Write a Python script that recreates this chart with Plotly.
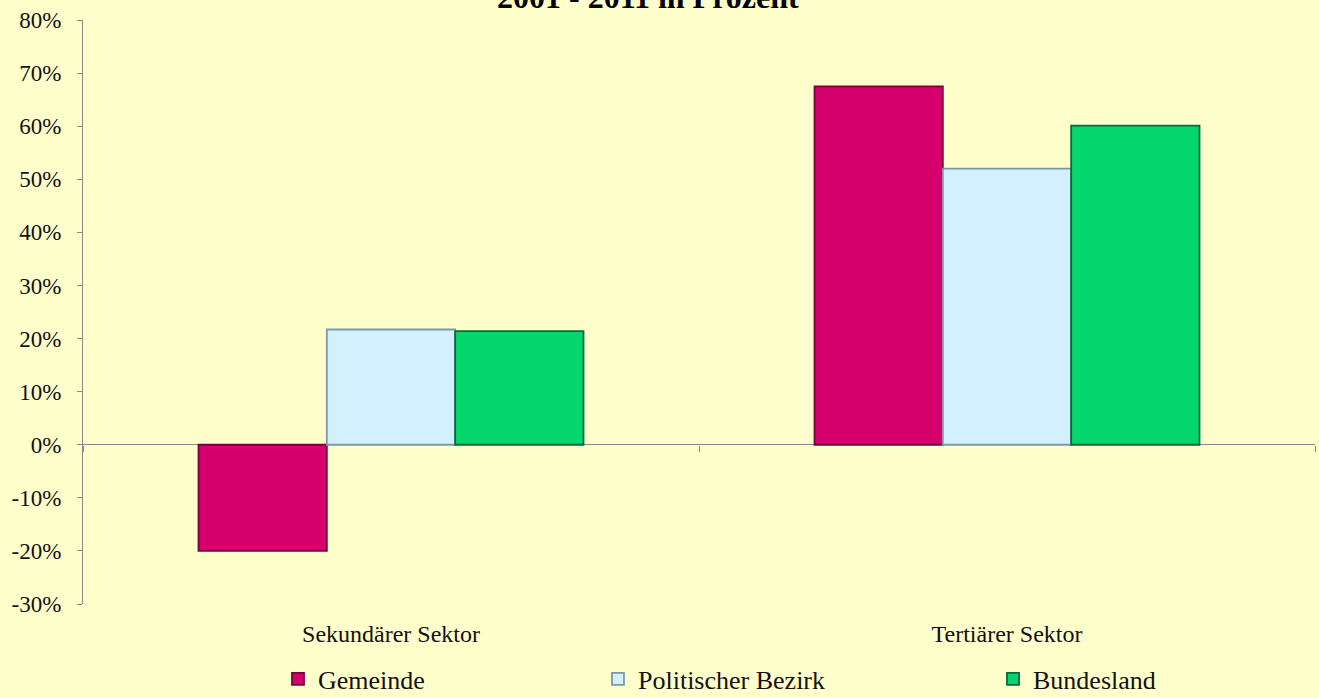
import plotly.graph_objects as go

categories = ["Sekundärer Sektor", "Tertiärer Sektor"]
series_names = ["Gemeinde", "Politischer Bezirk", "Bundesland"]
gemeinde = [-20.0, 67.5]
politischer_bezirk = [21.7, 52.0]
bundesland = [21.4, 60.1]
y_ticks = [-30, -20, -10, 0, 10, 20, 30, 40, 50, 60, 70, 80]
y_tick_labels = [f"{v}%" for v in y_ticks]
title_text = "2001 - 2011 in Prozent"

colors = ["#D5006B", "#D3F0FF", "#04D66D"]
edge_colors = ["#7A0040", "#7E97A8", "#036B3A"]
values = [gemeinde, politischer_bezirk, bundesland]
legend_ids = ["legend", "legend2", "legend3"]
legend_x_px = [278, 598, 993]

FONT = "Liberation Serif, Times New Roman, serif"
W, H = 1319, 698

fig = go.Figure()
for name, vals, c, ec, lg in zip(series_names, values, colors, edge_colors, legend_ids):
    fig.add_trace(go.Bar(
        x=categories, y=vals, name=name, legend=lg,
        marker=dict(color=c, line=dict(color=ec, width=1.8)),
    ))
# empty helper trace so the zero-level axis (category boundary ticks) is drawn
fig.add_trace(go.Scatter(x=[], y=[], xaxis="x2", showlegend=False, hoverinfo="skip"))

legend_common = dict(orientation="h", xref="container", yref="container",
                     y=1 - 679 / H, yanchor="middle", xanchor="left",
                     font=dict(size=26, color="#111111"), itemwidth=30,
                     bgcolor="rgba(0,0,0,0)")
legends = {}
for lg, xp in zip(legend_ids, legend_x_px):
    legends[lg] = dict(legend_common, x=xp / W)

fig.update_layout(
    width=W, height=H,
    paper_bgcolor="#FFFFCC", plot_bgcolor="#FFFFCC",
    margin=dict(l=83, r=4, t=20, b=94, autoexpand=False),
    barmode="group", bargap=0.375, bargroupgap=0,
    font=dict(family=FONT, size=22, color="#111111"),
    showlegend=True,
    annotations=[dict(text=f"<b>{title_text}</b>", xref="paper", yref="paper",
                      x=0.459, y=1.0, xanchor="center", yanchor="bottom",
                      yshift=3, showarrow=False, font=dict(size=32, color="#000000"))],
    **legends,
)
fig.update_xaxes(
    showline=False, ticks="outside", ticklen=8, tickcolor="rgba(0,0,0,0)",
    tickfont=dict(size=24), showgrid=False,
)
fig.update_yaxes(
    range=[-30, 80], tickvals=y_ticks, ticktext=y_tick_labels,
    showline=True, linecolor="#888888", linewidth=1,
    ticks="outside", ticklen=5, tickcolor="#888888", ticklabelstandoff=11,
    showgrid=False, zeroline=True, zerolinecolor="#888888", zerolinewidth=1,
    tickfont=dict(size=23),
)
fig.update_layout(xaxis2=dict(
    overlaying="x", anchor="free", position=30 / 110, side="bottom",
    range=[-0.5, 1.5], tickvals=[-0.5, 0.5, 1.5], showticklabels=False,
    ticks="outside", ticklen=6, tickcolor="#888888", showline=False, showgrid=False,
    zeroline=False,
))

fig.write_html("out.html", config={"displayModeBar": False})

# remove the default page margin so the figure sits at the window's top-left corner
with open("out.html", "r", encoding="utf-8") as f:
    html = f.read()
html = html.replace("<head>", "<head><style>html,body{margin:0;padding:0;overflow:hidden;}</style>", 1)
with open("out.html", "w", encoding="utf-8") as f:
    f.write(html)
